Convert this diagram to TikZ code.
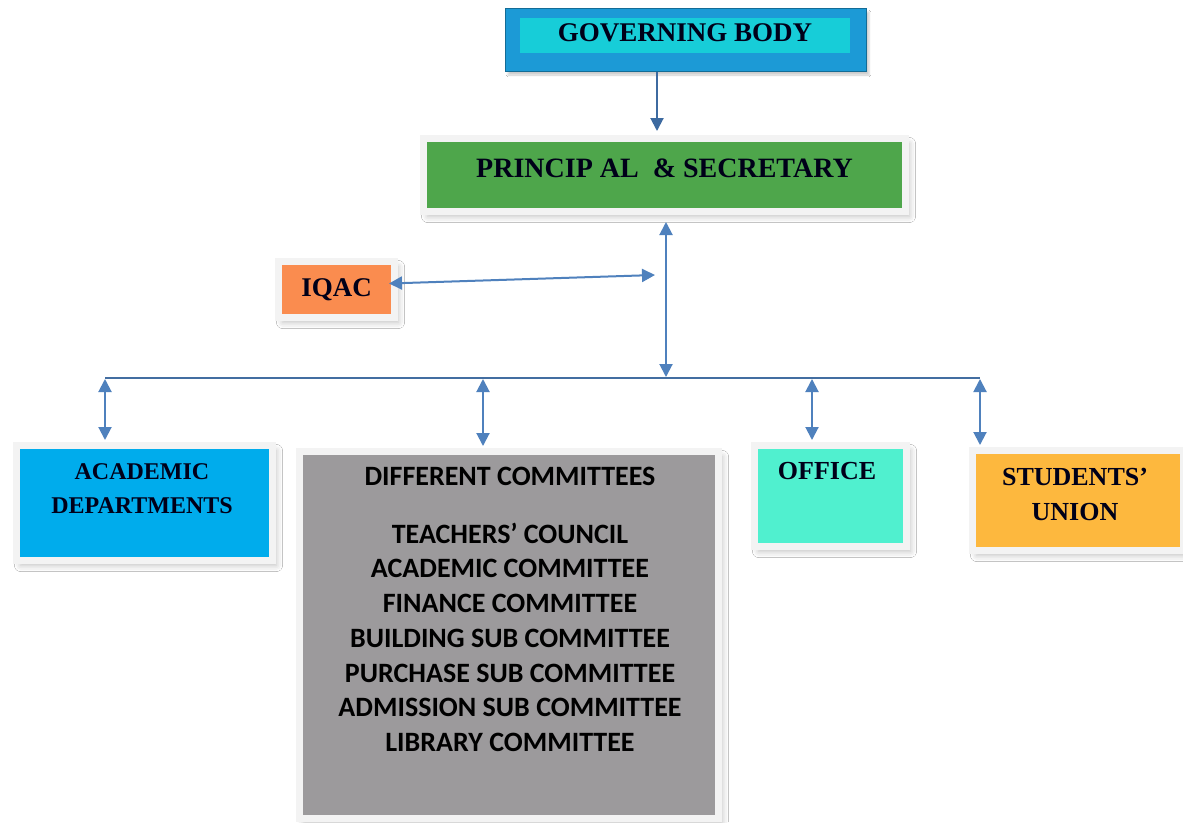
\documentclass[tikz,border=0pt]{standalone}
\usepackage{fontspec}
\setmainfont{Liberation Serif}
\newfontfamily\calfont{Carlito}
\usetikzlibrary{arrows.meta,shadows.blur}

\definecolor{gbblue}{HTML}{1C9AD6}
\definecolor{gbcyan}{HTML}{17CDD8}
\definecolor{prigreen}{HTML}{4EA64B}
\definecolor{iqacorange}{HTML}{FA8C4F}
\definecolor{acadblue}{HTML}{00ACEC}
\definecolor{commgray}{HTML}{9C9A9C}
\definecolor{officeaqua}{HTML}{50F0CF}
\definecolor{unionamber}{HTML}{FDB83E}
\definecolor{linkblue}{HTML}{4F81BD}
\definecolor{linkdark}{HTML}{3D6AA0}
\definecolor{framegray}{HTML}{F3F3F3}

\begin{document}
\begin{tikzpicture}[x=1pt,y=-1pt,
  box/.style={draw=framegray,line width=7pt,
    blur shadow={shadow xshift=4pt,shadow yshift=-5pt,shadow opacity=25,shadow blur radius=6pt}},
  hd/.style={font=\fontsize{#1}{#1}\bfseries\selectfont,text=black!90!blue},
  lines/.style={font=\fontsize{24}{34}\bfseries\selectfont,text=black!90!blue,
    align=center,anchor=north,inner sep=0pt},
  link/.style={color=linkblue,line width=2pt,{Triangle[length=13pt,width=13pt]}-{Triangle[length=13pt,width=13pt]}}]
  \useasboundingbox[fill=white] (0,0) rectangle (1183,822);

  \node[fill=gbblue,draw=gbblue!70!black,line width=1pt,minimum width=361,minimum height=63,
    blur shadow={shadow xshift=3pt,shadow yshift=-4pt,shadow opacity=20}] (gb) at (685.5,39.5) {};
  \node[fill=gbcyan,minimum width=330,minimum height=35,inner sep=0pt,hd=27,text depth=6pt] (gbin) at (685,35.5) {GOVERNING BODY};
  \node[box,fill=prigreen,minimum width=482,minimum height=73,hd=28,text depth=14pt] (pri) at (664.5,175) {PRINCIP AL\ \ \& SECRETARY};
  \node[box,fill=iqacorange,minimum width=116,minimum height=56,hd=27] (iqac) at (336.5,289.5) {IQAC};

  \node[box,fill=acadblue,minimum width=256,minimum height=115] (acad) at (144.5,503) {};
  \node[lines] (acadtxt) at (142,463.5) {ACADEMIC\\DEPARTMENTS};
  \node[box,fill=commgray,minimum width=419,minimum height=367] (comm) at (509,635) {};
  \node[lines,font=\calfont\fontsize{28}{34.7}\bfseries\selectfont,text=black] (commtxt) at (510,467)
    {DIFFERENT COMMITTEES\\[23pt]TEACHERS’ COUNCIL\\ACADEMIC COMMITTEE\\FINANCE COMMITTEE\\
     BUILDING SUB COMMITTEE\\PURCHASE SUB COMMITTEE\\ADMISSION SUB COMMITTEE\\LIBRARY COMMITTEE};
  \node[box,fill=officeaqua,minimum width=152,minimum height=101] (office) at (830.5,496) {};
  \node[lines,font=\fontsize{26}{35}\bfseries\selectfont] (officetxt) at (827,462) {OFFICE};
  \node[box,fill=unionamber,minimum width=211,minimum height=100] (union) at (1078,500.5) {};
  \node[lines,font=\fontsize{26}{35}\bfseries\selectfont] (uniontxt) at (1075,468) {STUDENTS’\\UNION};

  \coordinate (busL) at (105,378);
  \coordinate (busP) at (666,378);
  \coordinate (busC) at (483,378);
  \coordinate (busO) at (812,378);
  \coordinate (busR) at (980,378);
  \coordinate (iqend) at (655,275);

  \draw[color=linkblue!85!black,line width=2pt] (busL) -- (busR);
  \draw[color=linkdark,line width=2pt,-{Triangle[length=13pt,width=13pt]},shorten >=4pt]
    ([xshift=-28.5pt]gb.south) -- ([xshift=-7.5pt]pri.north);
  \draw[link,shorten <=7pt,shorten >=1pt] ([xshift=1.5pt]pri.south) -- (busP);
  \draw[link] ([shift={(-9,-6)}]iqac.east) -- (iqend);
  \draw[link,shorten <=1pt,shorten >=2pt] (busL) -- (busL |- acad.north);
  \draw[link,shorten <=1pt,shorten >=2pt] (busC) -- (busC |- comm.north);
  \draw[link,shorten <=1pt,shorten >=2pt] (busO) -- (busO |- office.north);
  \draw[link,shorten <=1pt,shorten >=2pt] (busR) -- (busR |- union.north);
\end{tikzpicture}
\end{document}
